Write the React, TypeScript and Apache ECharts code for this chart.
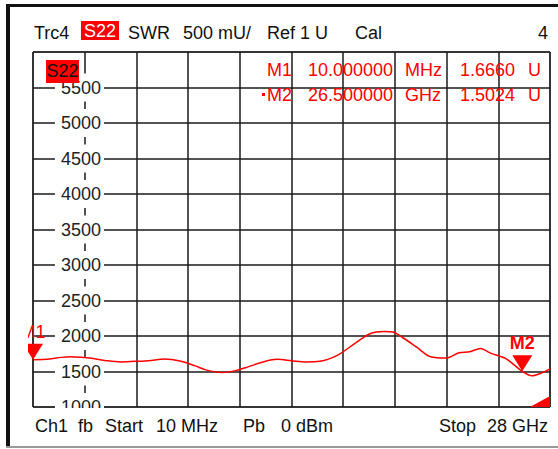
import React, { useEffect, useRef } from "react";
import * as echarts from "echarts";

// ---- data ----
const freqGHz = [0.01, 0.69, 1.55, 2.04, 2.62, 3.19, 3.97, 4.74, 5.51, 6.28, 7.15, 8.02, 8.79, 9.37, 10.24, 10.92, 11.69, 12.46, 13.23, 14.0, 14.77, 15.54, 16.51, 17.48, 18.25, 19.02, 19.5, 19.98, 20.76, 21.53, 22.4, 23.08, 23.65, 24.23, 24.81, 25.59, 26.5, 27.03, 27.52, 28.0];
const swrMilliU = [1666, 1671, 1699, 1708, 1700, 1685, 1653, 1634, 1643, 1653, 1676, 1643, 1579, 1523, 1486, 1509, 1569, 1634, 1671, 1653, 1634, 1643, 1731, 1903, 2032, 2065, 2056, 1986, 1847, 1708, 1690, 1764, 1778, 1824, 1755, 1685, 1502, 1440, 1477, 1537];
const yTickLabels = ["1000", "1500", "2000", "2500", "3000", "3500", "4000", "4500", "5000", "5500"];
const headerTexts = ["Trc4", "S22", "SWR", "500 mU/", "Ref 1 U", "Cal", "4"];
const footerTexts = ["Ch1", "fb", "Start", "10 MHz", "Pb", "0 dBm", "Stop", "28 GHz"];
const markerNames = ["M1", "M2"];
const markerFreqGHz = [0.01, 26.5];
const markerValueMilliU = [1666, 1502.4];
const markerFreqTexts = ["10.000000", "26.500000"];
const markerFreqUnits = ["MHz", "GHz"];
const markerValueTexts = ["1.6660", "1.5024"];
const markerValueUnit = "U";
const traceName = "S22";

const FONT = '"Liberation Sans", Arial, sans-serif';
const RED = "#ff0000";
const FS = 18;

function txt(text: string, x: number, y: number, opts: any = {}) {
  const align = opts.align || "left";
  return {
    type: "text",
    z: 100,
    style: {
      text,
      x,
      y,
      fill: opts.fill || "#111",
      font: `${opts.weight || "normal"} ${opts.size || FS}px ${FONT}`,
      textAlign: align,
      align,
      textVerticalAlign: "middle",
      verticalAlign: "middle",
    },
  };
}

export default function App() {
  const ref = useRef<HTMLDivElement>(null);
  useEffect(() => {
    if (!ref.current) return;
    const chart = echarts.init(ref.current, undefined, { renderer: "svg" });

    const headerX = [34, 0, 128, 183, 267, 355, 548];
    const headerY = 33;
    const footerX = [35, 78, 105, 156, 243, 281, 439, 548];
    const footerY = 426;
    const rowY = [69.5, 95];

    const graphic: any[] = [
      // outer frame
      { type: "rect", z: 100, shape: { x: 6, y: 4, width: 552, height: 3 }, style: { fill: "#111" } },
      { type: "rect", z: 100, shape: { x: 6, y: 4, width: 4, height: 443 }, style: { fill: "#111" } },
      { type: "rect", z: 100, shape: { x: 6, y: 446, width: 552, height: 2 }, style: { fill: "#999" } },
      // clip masks
      { type: "rect", z: 90, shape: { x: 11, y: 315, width: 17, height: 50 }, style: { fill: "#fff" } },
      { type: "rect", z: 90, shape: { x: 50, y: 408, width: 60, height: 8 }, style: { fill: "#fff" } },
      // header
      { type: "rect", z: 99, shape: { x: 81, y: 21, width: 38, height: 19 }, style: { fill: RED } },
      txt(headerTexts[1], 100, headerY - 2, { fill: "#fff", align: "center" }),
      // in-plot trace label
      { type: "rect", z: 99, shape: { x: 46, y: 60, width: 33, height: 23 }, style: { fill: RED } },
      txt(traceName, 62.5, 71, { fill: "#111", align: "center" }),
      // bottom-right indicator
      { type: "polygon", z: 100, shape: { points: [[530, 407], [550, 396], [550, 407]] }, style: { fill: RED } },
    ];
    headerTexts.forEach((t, i) => {
      if (i === 1) return;
      graphic.push(txt(t, headerX[i], headerY, { align: i === 6 ? "right" : "left" }));
    });
    footerTexts.forEach((t, i) => {
      graphic.push(txt(t, footerX[i], footerY, { align: i === 7 ? "right" : "left" }));
    });
    markerNames.forEach((n, i) => {
      const y = rowY[i];
      graphic.push(txt(n, 292, y, { fill: RED, align: "right" }));
      graphic.push(txt(markerFreqTexts[i], 308, y, { fill: RED }));
      graphic.push(txt(markerFreqUnits[i], 405, y, { fill: RED }));
      graphic.push(txt(markerValueTexts[i], 460, y, { fill: RED }));
      graphic.push(txt(markerValueUnit, 528, y, { fill: RED }));
    });
    graphic.push({ type: "rect", z: 100, shape: { x: 262, y: rowY[1] - 2, width: 3, height: 3 }, style: { fill: RED } });

    chart.setOption({
      animation: false,
      backgroundColor: "#fff",
      grid: { left: 33, top: 52, width: 517, height: 355, show: true, borderColor: "#111", borderWidth: 1, containLabel: false },
      xAxis: [
        {
          type: "value", min: 0, max: 10, interval: 1,
          axisLine: { show: false }, axisTick: { show: false }, axisLabel: { show: false },
          splitLine: { show: true, lineStyle: { color: "#1a1a1a", width: 1.5 } },
        },
        { type: "value", min: 0.01, max: 28, show: false, splitLine: { show: false } },
      ],
      yAxis: [
        {
          type: "value", min: 1000, max: 6000, interval: 500,
          axisLine: { show: false }, axisTick: { show: false }, axisLabel: { show: false },
          splitLine: { show: true, lineStyle: { color: "#1a1a1a", width: 1.5 } },
        },
        {
          type: "value", min: 1000, max: 6000, interval: 500, position: "left", offset: -71, z: 10,
          axisLine: { show: false }, axisTick: { show: false }, splitLine: { show: false },
          axisLabel: {
            show: true, margin: 0, showMaxLabel: false, showMinLabel: true,
            formatter: (v: number) => yTickLabels[Math.round((v - 1000) / 500)] || "",
            color: "#222", fontSize: FS, fontFamily: FONT, lineHeight: 14,
            backgroundColor: "#fff", padding: [7, 3, 7, 6], align: "right", verticalAlign: "middle",
          },
        },
      ],
      graphic,
      series: [
        {
          type: "line", xAxisIndex: 1, yAxisIndex: 0, z: 20,
          data: freqGHz.map((f, i) => [f, swrMilliU[i]]),
          symbol: "none", smooth: 0.3,
          lineStyle: { color: RED, width: 1.5 },
          markPoint: {
            symbol: "path://M0,0L20,0L10,16Z", symbolSize: [20, 16], symbolOffset: [0, "-50%"],
            itemStyle: { color: RED },
            label: { show: true, position: "top", distance: 3, color: RED, fontSize: FS, fontFamily: FONT },
            data: markerNames.map((n, i) => ({
              coord: [markerFreqGHz[i], markerValueMilliU[i]],
              label: { formatter: n, fontWeight: i === 1 ? "bold" : "normal" },
            })),
          },
        },
      ],
    });
    return () => chart.dispose();
  }, []);
  return <div ref={ref} style={{ position: "fixed", left: 0, top: 0, width: 558, height: 449 }} />;
}
